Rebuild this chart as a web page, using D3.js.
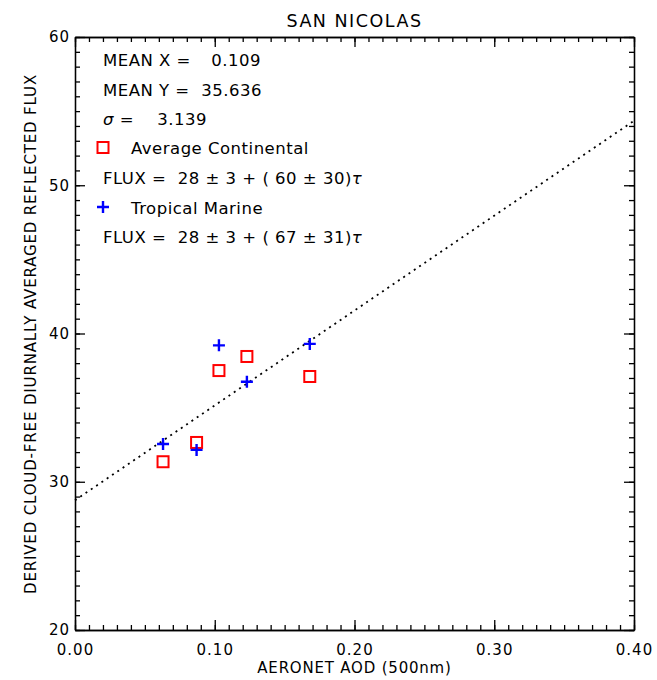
<!DOCTYPE html>
<html>
<head>
<meta charset="utf-8">
<script src="https://cdn.jsdelivr.net/npm/d3@7"></script>
<style>
  body { margin: 0; background: #fff; overflow: hidden; }
  svg { display: block; }
  text { font-family: "DejaVu Sans", sans-serif; fill: #000; }
  .chart__axis path, .chart__axis line { stroke: #000; stroke-width: 1.3; }
</style>
</head>
<body>
<div id="chart"></div>
<script>
// values
var aod = [0.063, 0.087, 0.103, 0.123, 0.168];
var fluxContinental = [31.35, 32.65, 37.5, 38.45, 37.1];
var fluxMarine = [32.55, 32.15, 39.2, 36.75, 39.3];
var fit = [28.75, 64];            // intercept, slope of dotted line
var xTicks = [0, 0.1, 0.2, 0.3, 0.4];
var yTicks = [20, 30, 40, 50, 60];
var statLabels = ['MEAN X =', 'MEAN Y =', '\u03c3 ='];
var statValues = ['0.109', '35.636', '3.139'];
var seriesNames = ['Average Continental', 'Tropical Marine'];
var fluxLines = [['28', '3', '60', '30'], ['28', '3', '67', '31']];

var width = 657, height = 680;
var margin = { top: 37, right: 23, bottom: 50, left: 75 };
var innerWidth = width - margin.left - margin.right,
    innerHeight = height - margin.top - margin.bottom;

var root = d3.select('#chart').append('svg')
    .attr('width', width)
    .attr('height', height)
    .attr('viewBox', '0 0 ' + width + ' ' + height);

var svg = root.append('g')
    .attr('transform', 'translate(' + margin.left + ',' + margin.top + ')');

var x = d3.scaleLinear().domain([0, 0.4]).range([0, innerWidth]);
var y = d3.scaleLinear().domain([20, 60]).range([innerHeight, 0]);

var xMinor = d3.range(0, 0.4001, 0.01);
var yMinor = d3.range(20, 60.001, 1);

function addAxis(axis, tx, ty, cls) {
    return svg.append('g').attr('class', 'chart__axis ' + cls)
        .attr('transform', 'translate(' + tx + ',' + ty + ')')
        .call(axis);
}

// minor ticks on all four sides (inward)
addAxis(d3.axisBottom(x).tickValues(xMinor).tickSize(-5).tickSizeOuter(0), 0, innerHeight, 'nolabel');
addAxis(d3.axisTop(x).tickValues(xMinor).tickSize(-5).tickSizeOuter(0), 0, 0, 'nolabel');
addAxis(d3.axisLeft(y).tickValues(yMinor).tickSize(-5).tickSizeOuter(0), 0, 0, 'nolabel');
addAxis(d3.axisRight(y).tickValues(yMinor).tickSize(-5).tickSizeOuter(0), innerWidth, 0, 'nolabel');

// major ticks
addAxis(d3.axisBottom(x).tickValues(xTicks).tickFormat(d3.format('.2f')).tickSize(-10).tickSizeOuter(0).tickPadding(14), 0, innerHeight, 'xmajor');
addAxis(d3.axisTop(x).tickValues(xTicks).tickSize(-10).tickSizeOuter(0), 0, 0, 'nolabel');
addAxis(d3.axisLeft(y).tickValues(yTicks).tickFormat(d3.format('d')).tickSize(-10).tickSizeOuter(0).tickPadding(5), 0, 0, 'ymajor');
addAxis(d3.axisRight(y).tickValues(yTicks).tickSize(-10).tickSizeOuter(0), innerWidth, 0, 'nolabel');

// unlabelled axes: drop their text
svg.selectAll('.nolabel text').remove();

svg.selectAll('.chart__axis text')
    .style('font-size', '15px')
    .style('letter-spacing', '1px')
    .style('font-family', '"DejaVu Sans", sans-serif');

// fit line
svg.append('line')
    .attr('x1', x(0)).attr('y1', y(fit[0]))
    .attr('x2', x(0.4)).attr('y2', y(fit[0] + fit[1] * 0.4))
    .attr('stroke', '#000')
    .attr('stroke-width', 1.8)
    .attr('stroke-dasharray', '2,4.4');

// markers
var sq = 11;
svg.selectAll('.cont').data(aod).enter().append('rect')
    .attr('class', 'cont')
    .attr('x', function (d) { return x(d) - sq / 2; })
    .attr('y', function (d, i) { return y(fluxContinental[i]) - sq / 2; })
    .attr('width', sq).attr('height', sq)
    .attr('fill', 'none').attr('stroke', '#ff0000').attr('stroke-width', 2);

svg.selectAll('.marine').data(aod).enter().append('path')
    .attr('class', 'marine')
    .attr('transform', function (d, i) { return 'translate(' + x(d) + ',' + y(fluxMarine[i]) + ')'; })
    .attr('d', 'M-6,0H6M0,-6V6')
    .attr('stroke', '#0000ff').attr('stroke-width', 2.4).attr('fill', 'none');

// annotations (page coordinates)
var ann = root.append('g')
    .style('font-size', '16.5px').style('letter-spacing', '0.5px');

var statRight = [261, 262, 207];
statLabels.forEach(function (s, i) {
    var yy = 66 + i * 29.5;
    var t = ann.append('text').attr('x', 103).attr('y', yy);
    if (i === 2) {
        t.append('tspan').style('font-style', 'italic').text('\u03c3');
        t.append('tspan').text(' =');
    } else {
        t.text(s);
    }
    ann.append('text').attr('x', statRight[i]).attr('y', yy)
        .attr('text-anchor', 'end').text(statValues[i]);
});

ann.append('rect').attr('x', 97.5).attr('y', 142).attr('width', 11).attr('height', 11)
    .attr('fill', 'none').attr('stroke', '#ff0000').attr('stroke-width', 2);
ann.append('path').attr('d', 'M97,207H109M103,201V213')
    .attr('stroke', '#0000ff').attr('stroke-width', 2.4);

[154, 214].forEach(function (yy, i) {
    ann.append('text').attr('x', 131).attr('y', yy).text(seriesNames[i]);
});

[184, 243].forEach(function (yy, i) {
    var f = fluxLines[i];
    var t = ann.append('text').attr('x', 103).attr('y', yy).style('white-space', 'pre');
    t.append('tspan').text('FLUX =  ' + f[0] + ' \u00b1 ' + f[1] + ' + ( ' + f[2] + ' \u00b1 ' + f[3] + ')');
    t.append('tspan').style('font-style', 'italic').text('\u03c4');
});

// titles
ann.append('text').attr('x', 354.5).attr('y', 27).attr('text-anchor', 'middle')
    .style('font-size', '17.5px').style('letter-spacing', '1.5px').text('SAN NICOLAS');

ann.append('text').attr('x', 354.5).attr('y', 673).attr('text-anchor', 'middle')
    .style('font-size', '15px').style('letter-spacing', '0.8px').text('AERONET AOD (500nm)');

ann.append('text').attr('transform', 'translate(36,334) rotate(-90)').attr('text-anchor', 'middle')
    .style('font-size', '15px').style('letter-spacing', '0.85px')
    .text('DERIVED CLOUD-FREE DIURNALLY AVERAGED REFLECTED FLUX');
</script>
</body>
</html>
